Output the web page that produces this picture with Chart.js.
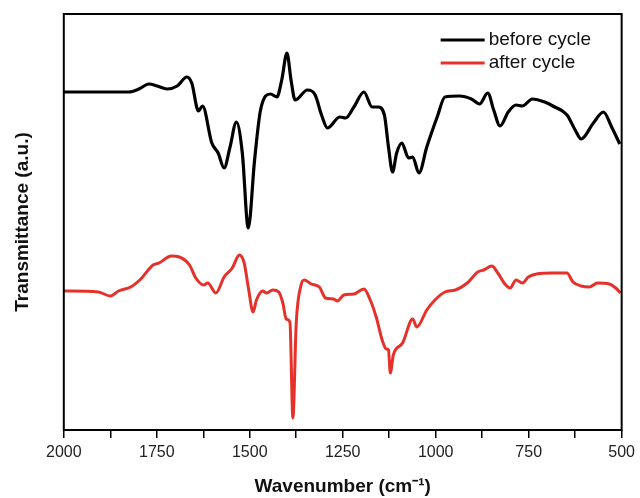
<!DOCTYPE html>
<html>
<head>
<meta charset="utf-8">
<script src="https://cdn.jsdelivr.net/npm/chart.js@4.4.1/dist/chart.umd.min.js"></script>
<style>
  html, body { margin: 0; padding: 0; background: #fff; }
  #chart { display: block; }
</style>
</head>
<body>
<canvas id="chart" width="640" height="498"></canvas>
<script>
/* =========================
   DATA (arbitrary transmittance units)
========================= */
const beforeWn = [2000, 1825, 1798, 1771, 1749, 1722, 1695, 1669, 1656, 1638, 1627, 1602, 1585, 1569, 1553, 1536, 1520, 1504, 1487, 1471, 1444, 1427, 1414, 1400, 1389, 1378, 1345, 1324, 1307, 1291, 1258, 1242, 1220, 1193, 1171, 1155, 1138, 1127, 1116, 1105, 1091, 1073, 1062, 1045, 1024, 996, 975, 936, 904, 882, 860, 844, 827, 805, 784, 767, 740, 707, 685, 647, 625, 609, 576, 549, 527, 505];
const beforeT = [338, 338, 341, 346, 344, 341, 344, 353, 347, 319, 324, 287, 277, 262, 283, 308, 277, 202, 270, 320, 336, 333, 350, 377, 350, 330, 340, 335, 315, 302, 313, 312, 323, 338, 323, 323, 315, 283, 258, 277, 287, 272, 273, 257, 283, 313, 333, 334, 331, 326, 337, 320, 304, 318, 325, 324, 331, 328, 324, 315, 300, 291, 307, 318, 303, 286];

const afterWn = [2000, 1907, 1875, 1853, 1820, 1793, 1760, 1744, 1711, 1689, 1662, 1645, 1624, 1613, 1591, 1569, 1547, 1528, 1515, 1504, 1491, 1482, 1465, 1455, 1438, 1422, 1411, 1402, 1392, 1384, 1375, 1362, 1353, 1335, 1313, 1296, 1275, 1264, 1247, 1220, 1193, 1176, 1160, 1144, 1133, 1127, 1122, 1114, 1089, 1062, 1051, 1024, 1002, 975, 947, 915, 887, 871, 849, 833, 816, 800, 784, 767, 751, 729, 685, 647, 631, 609, 587, 565, 533, 516, 503];
const afterT = [139, 138, 134, 139, 143, 151, 165, 167, 174, 173, 165, 152, 145, 147, 137, 153, 162, 175, 167, 143, 118, 130, 139, 137, 140, 138, 127, 111, 108, 12, 107, 145, 150, 146, 143, 132, 131, 129, 135, 136, 141, 130, 113, 90, 81, 80, 57, 75, 87, 111, 103, 120, 130, 138, 140, 147, 158, 160, 164, 157, 147, 142, 150, 147, 153, 156, 157, 157, 148, 144, 143, 147, 146, 142, 137];

const seriesLabels = ["before cycle", "after cycle"];
const majorTicks = [2000, 1750, 1500, 1250, 1000, 750, 500];
const minorTicks = [1875, 1625, 1375, 1125, 875, 625];

const toPoints = (xs, ys) => xs.map((x, i) => ({ x, y: ys[i] }));

/* =========================
   PLUGINS — frame + inner legend
========================= */
const frameBox = {
  id: "frameBox",
  afterDatasetsDraw(chart) {
    const { ctx, chartArea: a } = chart;
    ctx.save();
    ctx.strokeStyle = "#000";
    ctx.lineWidth = 2;
    ctx.strokeRect(a.left, a.top, a.right - a.left, a.bottom - a.top);
    ctx.restore();
  }
};

const innerLegend = {
  id: "innerLegend",
  afterDraw(chart) {
    const { ctx, chartArea: a } = chart;
    ctx.save();
    ctx.font = "19px 'Liberation Sans', Arial, sans-serif";
    ctx.textBaseline = "middle";
    chart.data.datasets.forEach((ds, i) => {
      const y = a.top + 26 + i * 23;
      ctx.strokeStyle = ds.borderColor;
      ctx.lineWidth = 3;
      ctx.beginPath();
      ctx.moveTo(a.right - 181, y);
      ctx.lineTo(a.right - 137, y);
      ctx.stroke();
      ctx.fillStyle = "#111";
      ctx.fillText(ds.label, a.right - 133, y);
    });
    ctx.restore();
  }
};

/* =========================
   CHART
========================= */
new Chart(document.getElementById("chart"), {
  type: "line",
  data: {
    datasets: [
      {
        label: seriesLabels[0],
        data: toPoints(beforeWn, beforeT),
        borderColor: "#000000",
        borderWidth: 3.2,
        pointRadius: 0,
        cubicInterpolationMode: "monotone"
      },
      {
        label: seriesLabels[1],
        data: toPoints(afterWn, afterT),
        borderColor: "#e5312a",
        borderWidth: 3,
        pointRadius: 0,
        cubicInterpolationMode: "monotone"
      }
    ]
  },
  options: {
    responsive: false,
    animation: false,
    layout: { padding: { left: 4, right: 13, top: 14, bottom: 0 } },
    plugins: {
      legend: { display: false },
      tooltip: { enabled: false }
    },
    scales: {
      x: {
        type: "linear",
        reverse: true,
        min: 500,
        max: 2000,
        afterBuildTicks: scale => {
          scale.ticks = [...majorTicks, ...minorTicks]
            .sort((p, q) => q - p)
            .map(v => ({ value: v }));
        },
        ticks: {
          autoSkip: false,
          maxRotation: 0,
          padding: 5,
          color: "#222",
          font: { family: "'Liberation Sans', Arial, sans-serif", size: 16 },
          callback: v => (majorTicks.includes(v) ? String(v) : "")
        },
        grid: {
          drawOnChartArea: false,
          drawTicks: true,
          tickLength: 8,
          color: "#000",
          lineWidth: 1.5
        },
        border: { display: false },
        title: {
          display: true,
          text: "Wavenumber (cm\u207B\u00B9)",
          color: "#111",
          font: { family: "'Liberation Sans', Arial, sans-serif", size: 19, weight: "bold" },
          padding: { top: 8, bottom: 0 }
        }
      },
      y: {
        min: 0,
        max: 416,
        ticks: { display: false },
        grid: { display: false },
        border: { display: false },
        title: {
          display: true,
          text: "Transmittance (a.u.)",
          color: "#111",
          font: { family: "'Liberation Sans', Arial, sans-serif", size: 19, weight: "bold" },
          padding: { top: 7, bottom: 22 }
        }
      }
    }
  },
  plugins: [frameBox, innerLegend]
});
</script>
</body>
</html>
